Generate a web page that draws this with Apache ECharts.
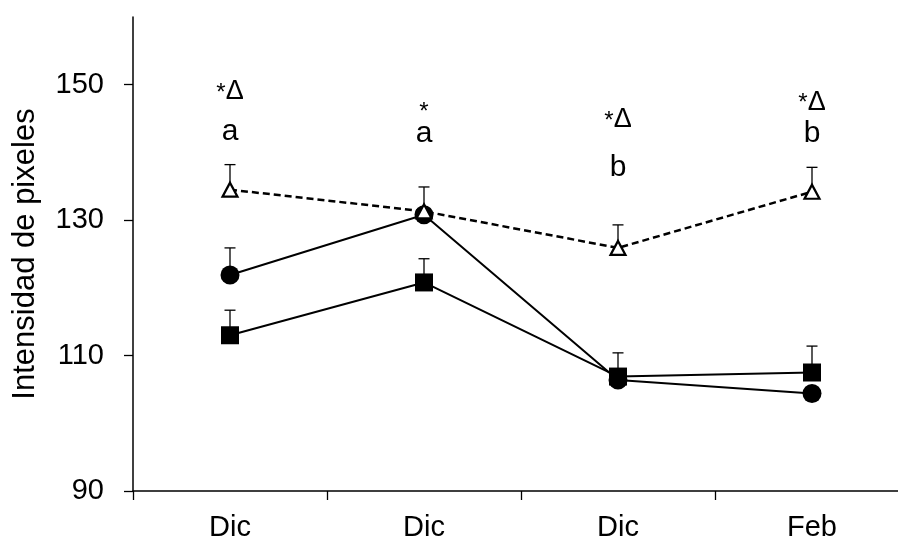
<!DOCTYPE html>
<html><head><meta charset="utf-8">
<script src="https://cdn.jsdelivr.net/npm/echarts@6/dist/echarts.min.js"></script>
<style>html,body{margin:0;padding:0;background:#fff}#c{width:898px;height:541px}</style>
</head><body><div id="c"></div>
<script>
const categories = ['Dic', 'Dic', 'Dic', 'Feb'];
const yTicks = [90, 110, 130, 150];
const circleVals = [121.9, 130.8, 106.4, 104.4];
const circleErr = [125.9, null, null, null];
const squareVals = [113.0, 120.8, 106.9, 107.5];
const squareErr = [116.7, 124.3, 110.4, 111.4];
const triVals = [134.5, 131.3, 125.9, 134.2];
const triErr = [138.2, 134.9, 129.3, 137.8];
const starLabels = ['*Δ', '*', '*Δ', '*Δ'];
const starY = [147.0, 144.15, 142.8, 145.4];
const letterLabels = ['a', 'a', 'b', 'b'];
const letterY = [140.8, 140.5, 135.5, 140.6];

const FONT = "'Liberation Sans', Arial, sans-serif";
const chart = echarts.init(document.getElementById('c'), null, {renderer: 'canvas'});

function errSeries(vals, errs) {
  const data = [];
  vals.forEach((v, i) => { if (errs[i] != null) data.push([i, v, errs[i]]); });
  return {
    type: 'custom', silent: true, z: 1,
    encode: {x: 0, y: [1, 2]},
    data: data,
    renderItem: function (params, api) {
      const p0 = api.coord([api.value(0), api.value(1)]);
      const p1 = api.coord([api.value(0), api.value(2)]);
      const st = {stroke: '#000', lineWidth: 1.3};
      return {type: 'group', children: [
        {type: 'line', shape: {x1: p0[0], y1: p0[1], x2: p1[0], y2: p1[1]}, style: st},
        {type: 'line', shape: {x1: p1[0] - 5.5, y1: p1[1], x2: p1[0] + 5.5, y2: p1[1]}, style: st}
      ]};
    }
  };
}

function richText(t) {
  return t.split('').map(ch => ch === '*' ? '{s|*}' : (ch === 'Δ' ? '{d|Δ}' : '{l|' + ch + '}')).join('');
}

function textSeries(labels, ys) {
  return {
    type: 'scatter', silent: true, z: 5, symbolSize: 0,
    itemStyle: {opacity: 1},
    data: labels.map((t, i) => [i, ys[i], t]),
    label: {show: true, position: 'top', distance: 0, formatter: p => richText(p.data[2]),
      color: '#000', fontFamily: FONT, opacity: 1,
      rich: {
        s: {fontSize: 24, color: '#000', fontFamily: FONT, verticalAlign: 'bottom'},
        d: {fontSize: 27, color: '#000', fontFamily: FONT, verticalAlign: 'bottom'},
        l: {fontSize: 30, color: '#000', fontFamily: FONT, verticalAlign: 'bottom'}
      }}
  };
}

chart.setOption({
  animation: false,
  backgroundColor: '#fff',
  textStyle: {fontFamily: FONT},
  grid: {left: 133, top: 17, height: 474, width: 776, containLabel: false, outerBoundsMode: 'none'},
  xAxis: {
    type: 'category', data: categories, boundaryGap: true,
    axisLine: {lineStyle: {color: '#000', width: 1.5}},
    axisTick: {show: true, length: 9, lineStyle: {color: '#000', width: 1.3}},
    axisLabel: {fontSize: 29, color: '#000', margin: 22, fontFamily: FONT},
    splitLine: {show: false}
  },
  yAxis: {
    type: 'value', min: 90, max: 160,
    name: 'Intensidad de pixeles', nameLocation: 'middle', nameGap: 92,
    nameTextStyle: {fontSize: 31, color: '#000', fontFamily: FONT},
    axisLine: {show: true, lineStyle: {color: '#000', width: 1.5}},
    axisTick: {show: true, length: 9, customValues: yTicks, lineStyle: {color: '#000', width: 1.3}},
    axisLabel: {customValues: yTicks, fontSize: 29, color: '#000', margin: 29, fontFamily: FONT},
    splitLine: {show: false}
  },
  series: [
    errSeries(circleVals, circleErr),
    errSeries(squareVals, squareErr),
    errSeries(triVals, triErr),
    {
      type: 'line', z: 2, data: circleVals, symbol: 'circle', symbolSize: 19,
      itemStyle: {color: '#000'}, lineStyle: {color: '#000', width: 2}
    },
    {
      type: 'line', z: 3, data: squareVals, symbol: 'rect', symbolSize: 18,
      itemStyle: {color: '#000'}, lineStyle: {color: '#000', width: 2}
    },
    {
      type: 'line', z: 4, data: triVals, symbol: 'triangle', symbolSize: [15, 14],
      itemStyle: {color: '#fff', borderColor: '#000', borderWidth: 2.2},
      lineStyle: {color: '#000', width: 2.5, type: [7, 4]}
    },
    textSeries(starLabels, starY),
    textSeries(letterLabels, letterY)
  ]
});
</script>
</body></html>
